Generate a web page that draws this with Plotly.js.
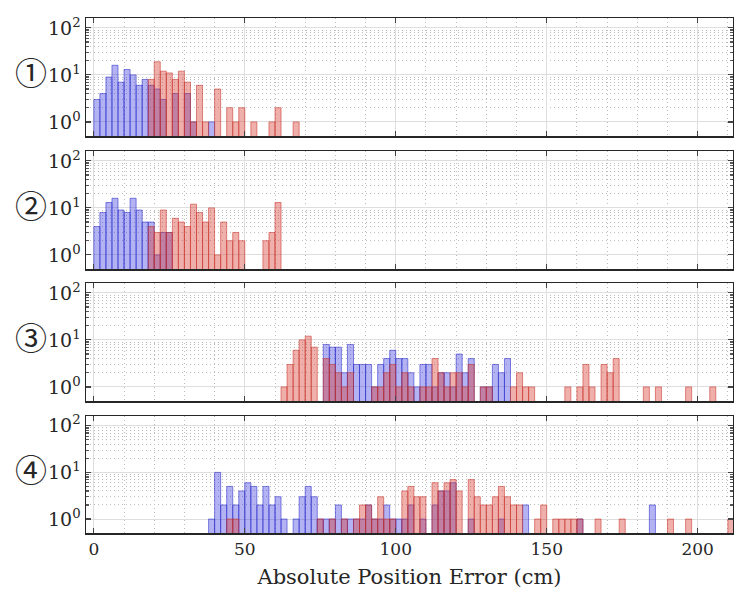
<!DOCTYPE html>
<html><head><meta charset="utf-8">
<script src="https://cdn.plot.ly/plotly-3.0.1.min.js"></script>
<style>html,body{margin:0;padding:0;background:#fff}</style>
</head><body><div id="chart" style="width:734px;height:592px"></div>
<script>
// ---- data: histogram counts per 2 cm bin (bin k covers [2k, 2k+2) cm) ----
const binWidth = 2;
const panelLabels = ['①', '②', '③', '④'];
const xTickVals = [0, 50, 100, 150, 200];
const xTickText = ['0', '50', '100', '150', '200'];
const yTickVals = [1, 10, 100];
const yTickText = ['10<sup>0</sup>', '10<sup>1</sup>', '10<sup>2</sup>'];
const xTitle = 'Absolute Position Error (cm)';

// panel 1
const blue1Start = 0;
const blue1 = [3,4,9,16,7,13,10,6,8,6,5,3,0,4,0,4,1,0,0,1];
const red1Start = 9;
const red1 = [8,19,12,11,8,12,7,1,6,1,0,5,0,2,1,2,0,1,0,0,1,2,0,0,1];
// panel 2
const blue2Start = 0;
const blue2 = [4,8,13,16,9,8,16,9,5,5,1,3,3];
const red2Start = 9;
const red2 = [4,3,9,3,6,5,4,12,8,5,10,1,5,2,3,2,0,0,0,2,3,13];
// panel 3
const blue3Start = 38;
const blue3 = [8,7,7,2,8,3,3,3,1,3,4,6,4,4,2,1,3,3,1,2,2,1,5,2,4,0,1,1,3,2,4];
const red3Start = 31;
const red3 = [1,3,6,10,12,7,0,4,3,2,1,2,0,0,0,1,1,2,3,1,2,1,0,1,1,4,2,1,2,2,1,3,0,1,1,0,0,0,1,2,1,1,
              0,0,0,0,0,1,0,1,3,1,0,3,2,4,0,0,0,0,1,0,1,0,0,0,0,1,0,0,0,1];
// panel 4
const blue4Start = 19;
const blue4 = [1,10,2,5,2,4,6,5,2,5,2,3,1,0,1,3,5,3,1,1,1,2,1,1,1,1,2,1,1,2,1,1,1,2,0,1,0,2,4,4,6,0,0,1,0,0,0,0,1,0,0,0,2,
               0,0,0,0,0,0,0,0,1,0,0,0,0,0,0,0,0,0,0,0,2];
const red4Start = 22;
const red4 = [1,1,0,0,0,0,0,0,0,0,0,0,0,0,0,1,0,1,0,1,0,1,2,2,1,3,1,1,0,4,5,3,3,0,6,4,6,7,4,0,7,3,2,2,3,5,3,2,2,0,0,1,2,0,
              1,1,1,1,1,0,0,1,0,0,0,1,0,0,0,0,0,0,0,1,0,0,1,0,0,0,0,0,0,1];

const panels = [
  {blue: blue1, blueStart: blue1Start, red: red1, redStart: red1Start},
  {blue: blue2, blueStart: blue2Start, red: red2, redStart: red2Start},
  {blue: blue3, blueStart: blue3Start, red: red3, redStart: red3Start},
  {blue: blue4, blueStart: blue4Start, red: red4, redStart: red4Start}
];

// ---- styling / layout ----
const W = 734, H = 592;
const mL = 86, mR = 1, mT = 18, mB = 59;
const plotH = H - mT - mB;
const panelPx = [[18,136],[151,269],[283,401],[416,533]];
const blueFill = 'rgba(45,45,225,0.36)', blueLine = 'rgba(40,40,200,0.55)';
const redFill = 'rgba(215,55,45,0.40)', redLine = 'rgba(200,50,40,0.55)';
const fontFam = 'DejaVu Serif';

function toBars(counts, start) {
  const x = [], y = [];
  counts.forEach((c, i) => {
    if (c > 0) { x.push((start + i) * binWidth + binWidth / 2); y.push(c); }
  });
  return {x, y};
}

const minorY = [];
[1, 10].forEach(d => { for (let k = 2; k <= 9; k++) minorY.push(k * d); });
minorY.push(200);
const minorX = [];
for (let v = 0; v <= 210; v += 10) if (v % 50 !== 0) minorX.push(v);

const traces = [];
const layout = {
  width: W, height: H,
  margin: {l: mL, r: mR, t: mT, b: mB},
  paper_bgcolor: '#fff', plot_bgcolor: '#fff',
  showlegend: false,
  barmode: 'overlay',
  font: {family: fontFam, color: '#262626', size: 17},
  annotations: []
};

panels.forEach((p, i) => {
  const n = i + 1;
  const xa = 'x' + (n === 1 ? '' : n), ya = 'y' + (n === 1 ? '' : n);
  const b = toBars(p.blue, p.blueStart), r = toBars(p.red, p.redStart);
  traces.push({type: 'bar', x: b.x, y: b.y, width: binWidth, xaxis: xa, yaxis: ya,
    marker: {color: blueFill, line: {color: blueLine, width: 1}}, hoverinfo: 'x+y'});
  traces.push({type: 'bar', x: r.x, y: r.y, width: binWidth, xaxis: xa, yaxis: ya,
    marker: {color: redFill, line: {color: redLine, width: 1}}, hoverinfo: 'x+y'});
  const dom = [(H - mB - panelPx[i][1]) / plotH, (H - mB - panelPx[i][0]) / plotH];
  const xKey = 'xaxis' + (n === 1 ? '' : n), yKey = 'yaxis' + (n === 1 ? '' : n);
  layout[xKey] = {
    anchor: ya, domain: [0, 1], range: [-2.6, 211.7],
    tickmode: 'array', tickvals: xTickVals, ticktext: xTickText,
    showticklabels: n === 4, ticks: 'inside', ticklen: 5, tickwidth: 1.2, tickcolor: '#444',
    showline: true, linecolor: '#262626', linewidth: 1.5, mirror: 'ticks',
    showgrid: true, gridcolor: '#dedede', gridwidth: 1, zeroline: false,
    minor: {tickmode: 'array', tickvals: minorX, showgrid: true, gridcolor: '#bdbdbd', griddash: '1px,3px', gridwidth: 1, ticks: ''},
    tickfont: {size: 17, family: fontFam}
  };
  if (n === 4) layout[xKey].title = {text: xTitle, font: {size: 21, family: fontFam}, standoff: 11};
  layout[yKey] = {
    anchor: xa, domain: dom, type: 'log', range: [-0.30, 2.21],
    tickmode: 'array', tickvals: yTickVals, ticktext: yTickText,
    ticks: 'inside', ticklen: 5, tickwidth: 1.2, tickcolor: '#444',
    showline: true, linecolor: '#262626', linewidth: 1.5, mirror: 'ticks',
    showgrid: true, gridcolor: '#dedede', gridwidth: 1, zeroline: false,
    minor: {tickmode: 'array', tickvals: minorY, showgrid: true, gridcolor: '#bdbdbd', griddash: '1px,3px', gridwidth: 1, ticks: 'inside', ticklen: 3, tickcolor: '#555'},
    tickfont: {size: 19, family: fontFam}
  };
  layout.annotations.push({
    text: panelLabels[i], xref: 'paper', yref: 'paper',
    x: (31 - mL) / (W - mL - mR), y: (dom[0] + dom[1]) / 2 + 0.012,
    xanchor: 'center', yanchor: 'middle', showarrow: false,
    font: {size: 32, family: 'Noto Sans CJK JP', color: '#262626'}
  });
});

Plotly.newPlot('chart', traces, layout, {displayModeBar: false, staticPlot: true});
</script>
</body></html>
